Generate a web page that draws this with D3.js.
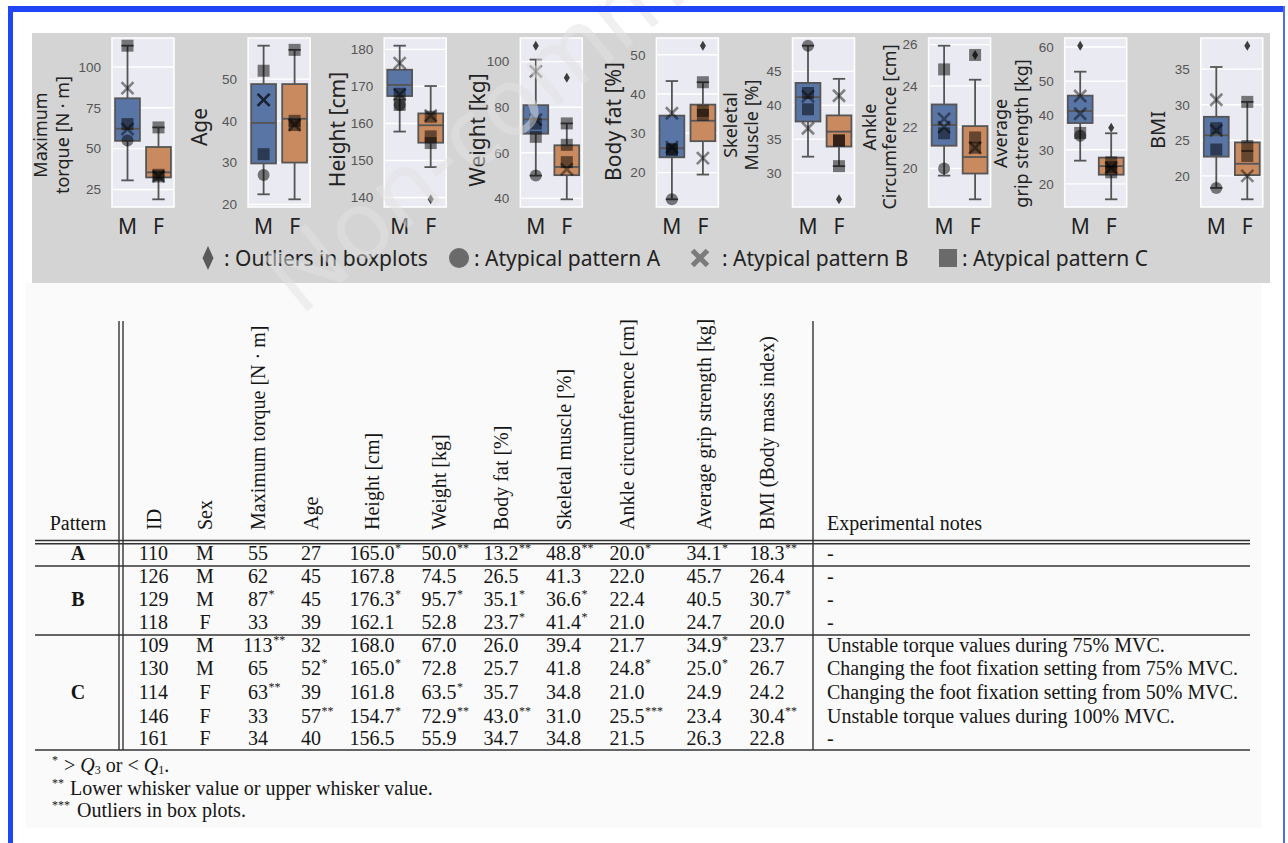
<!DOCTYPE html>
<html>
<head>
<meta charset="utf-8">
<script src="https://cdn.jsdelivr.net/npm/d3@7"></script>
<style>
  body { margin: 0; background: #fff; }
  svg { display: block; }
</style>
</head>
<body>
<svg id="fig" width="1288" height="843"></svg>
<script>
// ---------------- data ----------------
const sexes = ["M", "F"];
const variables = ["torque", "age", "height", "weight", "fat", "muscle", "ankle", "grip", "bmi"];
const axisTitles = [
  ["Maximum", "torque [N · m]"], ["Age"], ["Height [cm]"], ["Weight [kg]"], ["Body fat [%]"],
  ["Skeletal", "Muscle [%]"], ["Ankle", "Circumference [cm]"], ["Average", "grip strength [kg]"], ["BMI"]
];
const axisTicks = [
  [25, 50, 75, 100], [20, 30, 40, 50], [140, 150, 160, 170, 180], [40, 60, 80, 100], [20, 30, 40, 50],
  [30, 35, 40, 45], [20, 22, 24, 26], [20, 30, 40, 50, 60], [20, 25, 30, 35]
];
// box summaries: lower whisker, Q1, median, Q3, upper whisker
const boxMale = [
  [30.6, 54.8, 62.2, 80.8, 113],
  [22.4, 29.8, 39.5, 48.8, 58],
  [157.8, 167.4, 170.4, 174.5, 181],
  [50.0, 68.4, 74.7, 80.9, 100.9],
  [13.2, 23.9, 26.2, 34.5, 43.3],
  [32.4, 37.6, 41.2, 43.3, 48.8],
  [19.65, 21.1, 22.1, 23.1, 25.95],
  [26.8, 37.8, 41.3, 45.8, 52.8],
  [18.3, 22.7, 25.7, 28.3, 35.3]
];
const boxFemale = [
  [19, 32.4, 35.5, 51, 63],
  [21.2, 30, 40.5, 48.8, 57],
  [148.2, 154.8, 159.5, 162.7, 170.1],
  [39.6, 50.2, 53.8, 63.3, 72.9],
  [19.5, 28, 33.2, 37.3, 43.0],
  [31.0, 33.9, 36.1, 38.5, 43.9],
  [18.5, 19.75, 20.55, 22.05, 24.3],
  [15.5, 22.7, 25.2, 27.7, 34.8],
  [16.7, 20.1, 21.7, 24.7, 30.4]
];
const outliersMale = [[], [], [], [107], [], [], [], [60.4], []];
const outliersFemale = [[], [], [139.5], [92.9], [52.3], [26.1], [25.5], [36.4], [38.3]];

// participants with atypical patterns
const subjectPattern = ["A", "B", "B", "B", "C", "C", "C", "C", "C"];
const subjectId = ["110", "126", "129", "118", "109", "130", "114", "146", "161"];
const subjectSex = ["M", "M", "M", "F", "M", "M", "F", "F", "F"];
const torqueCol = ["55", "62", "87*", "33", "113**", "65", "63**", "33", "34"];
const ageCol = ["27", "45", "45", "39", "32", "52*", "39", "57**", "40"];
const heightCol = ["165.0*", "167.8", "176.3*", "162.1", "168.0", "165.0*", "161.8", "154.7*", "156.5"];
const weightCol = ["50.0**", "74.5", "95.7*", "52.8", "67.0", "72.8", "63.5*", "72.9**", "55.9"];
const fatCol = ["13.2**", "26.5", "35.1*", "23.7*", "26.0", "25.7", "35.7", "43.0**", "34.7"];
const muscleCol = ["48.8**", "41.3", "36.6*", "41.4*", "39.4", "41.8", "34.8", "31.0", "34.8"];
const ankleCol = ["20.0*", "22.0", "22.4", "21.0", "21.7", "24.8*", "21.0", "25.5***", "21.5"];
const gripCol = ["34.1*", "45.7", "40.5", "24.7", "34.9*", "25.0*", "24.9", "23.4", "26.3"];
const bmiCol = ["18.3**", "26.4", "30.7*", "20.0", "23.7", "26.7", "24.2", "30.4**", "22.8"];
const notesCol = [
  "-", "-", "-", "-",
  "Unstable torque values during 75% MVC.",
  "Changing the foot fixation setting from 75% MVC.",
  "Changing the foot fixation setting from 50% MVC.",
  "Unstable torque values during 100% MVC.",
  "-"
];
const tableHeaders = ["ID", "Sex", "Maximum torque [N · m]", "Age", "Height [cm]", "Weight [kg]", "Body fat [%]",
  "Skeletal muscle [%]", "Ankle circumference [cm]", "Average grip strength [kg]", "BMI (Body mass index)"];
const legendItems = ["Outliers in boxplots", "Atypical pattern A", "Atypical pattern B", "Atypical pattern C"];
// subject / variable pairs that have no marker in the box plots
const notPlotted = [["130", "grip"]];

// ---------------- layout ----------------
const W = 1288, H = 843;
const PANEL_X0 = 112, PANEL_STEP = 136.1, PANEL_W = 62, PANEL_TOP = 38, PANEL_BOTTOM = 207;
const labelDx = [[-72, -50], [-49], [-47], [-43], [-43], [-63, -42], [-60, -40], [-65, -44], [-43]];
const labelCy = [135, 127, 129.5, 130, 121.5, 125, 127, 133.5, 130];
const SANS = "'Noto Sans', 'DejaVu Sans', sans-serif";
const SERIF = "'Liberation Serif', 'Times New Roman', serif";
const boxFill = { M: "#5975a6", F: "#c98a5f" };
const LINE = "#555";

const svg = d3.select("#fig");
svg.append("rect").attr("width", W).attr("height", H).attr("fill", "#fff");
svg.append("rect").attr("x", 25).attr("y", 283).attr("width", 1237).attr("height", 545).attr("fill", "#fafafa");
svg.append("rect").attr("x", 32).attr("y", 33).attr("width", 1238).attr("height", 250).attr("fill", "#d4d4d4");

// marker shapes
function drawMarker(g, shape, cx, cy, s, legend) {
  if (shape === "A") {
    g.append("circle").attr("cx", cx).attr("cy", cy).attr("r", s / 2)
      .attr("fill", "#000").attr("fill-opacity", 0.5);
  } else if (shape === "B") {
    const h = s / 2;
    g.append("path")
      .attr("d", `M${cx - h},${cy - h}L${cx + h},${cy + h}M${cx - h},${cy + h}L${cx + h},${cy - h}`)
      .attr("stroke", "#000").attr("stroke-opacity", legend ? 0.42 : 0.45)
      .attr("stroke-width", legend ? 5 : 2.6).attr("fill", "none");
  } else {
    g.append("rect").attr("x", cx - s / 2).attr("y", cy - s / 2).attr("width", s).attr("height", s)
      .attr("fill", "#000").attr("fill-opacity", 0.5);
  }
}
function diamond(g, cx, cy, w, h, fill) {
  g.append("path")
    .attr("d", `M${cx},${cy - h / 2}L${cx + w / 2},${cy}L${cx},${cy + h / 2}L${cx - w / 2},${cy}Z`)
    .attr("fill", fill);
}

// ---------------- box plot panels ----------------
const columns = { torque: torqueCol, age: ageCol, height: heightCol, weight: weightCol, fat: fatCol,
  muscle: muscleCol, ankle: ankleCol, grip: gripCol, bmi: bmiCol };

variables.forEach((v, i) => {
  const x0 = PANEL_X0 + i * PANEL_STEP;
  const all = boxMale[i].concat(boxFemale[i], outliersMale[i], outliersFemale[i]);
  const [lo, hi] = d3.extent(all);
  const pad = (hi - lo) * 0.05;
  const y = d3.scaleLinear().domain([lo - pad, hi + pad]).range([PANEL_BOTTOM, PANEL_TOP]);
  const x = d3.scaleBand().domain(sexes).range([x0, x0 + PANEL_W]).paddingInner(0.2).paddingOuter(0.1);
  const g = svg.append("g");

  g.append("rect").attr("x", x0).attr("y", PANEL_TOP).attr("width", PANEL_W)
    .attr("height", PANEL_BOTTOM - PANEL_TOP).attr("fill", "#eaeaf2")
    .attr("stroke", "#fff").attr("stroke-width", 1.5);
  g.selectAll("line.grid").data(axisTicks[i]).join("line").attr("class", "grid")
    .attr("x1", x0).attr("x2", x0 + PANEL_W).attr("y1", d => y(d)).attr("y2", d => y(d))
    .attr("stroke", "#fff").attr("stroke-width", 1.4);

  const ya = g.append("g").attr("transform", `translate(${x0},0)`)
    .call(d3.axisLeft(y).tickValues(axisTicks[i]).tickSize(0).tickPadding(11));
  ya.select(".domain").remove();
  ya.attr("font-family", "'Liberation Sans', Arial, sans-serif").attr("font-size", 13.5);
  ya.selectAll("text").attr("fill", "#555");

  const xa = g.append("g").attr("transform", `translate(0,${PANEL_BOTTOM})`)
    .call(d3.axisBottom(x).tickSize(0).tickPadding(12));
  xa.select(".domain").remove();
  xa.attr("font-family", SANS).attr("font-size", 21);
  xa.selectAll("text").attr("fill", "#222");

  const lines = axisTitles[i];
  lines.forEach((t, k) => {
    const fs = lines.length > 1 ? 18 : (t === "BMI" ? 20 : 21);
    g.append("text")
      .attr("transform", `translate(${x0 + labelDx[i][k]},${labelCy[i]}) rotate(-90)`)
      .attr("text-anchor", "middle").attr("dominant-baseline", "central")
      .attr("font-family", SANS).attr("font-size", fs).attr("fill", "#222").text(t);
  });

  sexes.forEach((s, si) => {
    const st = si === 0 ? boxMale[i] : boxFemale[i];
    const outs = si === 0 ? outliersMale[i] : outliersFemale[i];
    const bw = x.bandwidth(), cx = x(s) + bw / 2;
    const bg = g.append("g").attr("stroke", LINE).attr("stroke-width", 1.8);
    bg.append("line").attr("x1", cx).attr("x2", cx).attr("y1", y(st[0])).attr("y2", y(st[1]));
    bg.append("line").attr("x1", cx).attr("x2", cx).attr("y1", y(st[3])).attr("y2", y(st[4]));
    [st[0], st[4]].forEach(c => bg.append("line").attr("x1", cx - bw / 4).attr("x2", cx + bw / 4)
      .attr("y1", y(c)).attr("y2", y(c)));
    bg.append("rect").attr("x", x(s)).attr("y", y(st[3])).attr("width", bw)
      .attr("height", y(st[1]) - y(st[3])).attr("fill", boxFill[s]);
    bg.append("line").attr("x1", x(s)).attr("x2", x(s) + bw).attr("y1", y(st[2])).attr("y2", y(st[2]));
    outs.forEach(o => diamond(g, cx, y(o), 6, 10, "#3d3d3d"));
  });

  // atypical participants
  subjectId.forEach((id, r) => {
    if (notPlotted.some(p => p[0] === id && p[1] === v)) return;
    const val = parseFloat(columns[v][r]);
    const cx = x(subjectSex[r]) + x.bandwidth() / 2;
    drawMarker(g, subjectPattern[r], cx, y(val), 12, false);
  });
});

// ---------------- legend ----------------
const lg = svg.append("g").attr("font-family", SANS).attr("font-size", 21).attr("fill", "#222");
const legendSym = [208, 459, 700, 948];
const legendTxt = [224, 474, 722, 962];
const LY = 258;
diamond(lg, legendSym[0], LY, 11, 24, "#5a5a5a");
drawMarker(lg, "A", legendSym[1], LY, 20, true);
drawMarker(lg, "B", legendSym[2], LY, 15, true);
drawMarker(lg, "C", legendSym[3], LY, 18, true);
legendItems.forEach((t, k) => {
  lg.append("text").attr("x", legendTxt[k]).attr("y", LY).attr("dominant-baseline", "central").text(": " + t);
});

// ---------------- table ----------------
const tg = svg.append("g").attr("font-family", SERIF).attr("font-size", 20).attr("fill", "#151515");
const colCenters = [153.5, 205, 258, 311, 372, 439, 501, 563.5, 627, 704, 767];
const NOTES_X = 827;
const rowBaselines = [559.5, 582.5, 605.5, 628.5, 652, 675, 699, 722.5, 745];
const tableColumns = [subjectId, subjectSex, torqueCol, ageCol, heightCol, weightCol, fatCol, muscleCol,
  ankleCol, gripCol, bmiCol];

const rule = (x1, x2, y1, y2, w) => tg.append("line").attr("x1", x1).attr("x2", x2).attr("y1", y1).attr("y2", y2)
  .attr("stroke", "#333").attr("stroke-width", w || 1.4);
rule(119, 119, 321, 750); rule(123, 123, 321, 750); rule(813, 813, 321, 750);
rule(35, 1250, 540.5, 540.5); rule(35, 1250, 543.8, 543.8);
rule(35, 1250, 566, 566); rule(35, 1250, 635, 635); rule(35, 1250, 750, 750, 1.7);

tg.append("text").attr("x", 78).attr("y", 530).attr("text-anchor", "middle").text("Pattern");
tg.append("text").attr("x", NOTES_X).attr("y", 530).text("Experimental notes");
tableHeaders.forEach((h, c) => {
  tg.append("text").attr("transform", `translate(${colCenters[c]},530) rotate(-90)`)
    .attr("dominant-baseline", "central").text(h);
});

function cell(str, cx, by) {
  const m = str.match(/^([^*]*)(\**)$/);
  const t = tg.append("text").attr("x", cx).attr("y", by).attr("text-anchor", "middle").text(m[1]);
  if (m[2]) {
    const w = t.node().getComputedTextLength();
    tg.append("text").attr("x", cx + w / 2 + 0.5).attr("y", by - 8).attr("font-size", 12).text(m[2]);
  }
}
tableColumns.forEach((col, c) => col.forEach((s, r) => cell(s, colCenters[c], rowBaselines[r])));
notesCol.forEach((n, r) => tg.append("text").attr("x", NOTES_X).attr("y", rowBaselines[r]).text(n));

// pattern group labels
d3.groups(subjectPattern.map((p, r) => [p, rowBaselines[r]]), d => d[0]).forEach(([p, rows]) => {
  tg.append("text").attr("x", 78).attr("y", d3.mean(rows, d => d[1])).attr("text-anchor", "middle")
    .attr("font-weight", "bold").text(p);
});

// footnotes: star markers, then the explanation text
const footStars = ["*", "**", "***"];
const footY = [772, 795, 817];
const footX = [64, 70, 77];
footStars.forEach((s, k) => {
  tg.append("text").attr("x", 52).attr("y", footY[k] - 8).attr("font-size", 12).text(s);
});
const fn1 = tg.append("text").attr("x", footX[0]).attr("y", footY[0]);
fn1.append("tspan").text("> ");
fn1.append("tspan").attr("font-style", "italic").text("Q");
fn1.append("tspan").attr("font-size", 12).attr("dy", 2).text("3");
fn1.append("tspan").attr("dy", -2).text(" or < ");
fn1.append("tspan").attr("font-style", "italic").text("Q");
fn1.append("tspan").attr("font-size", 12).attr("dy", 2).text("1");
fn1.append("tspan").attr("dy", -2).text(".");
tg.append("text").attr("x", footX[1]).attr("y", footY[1]).text("Lower whisker value or upper whisker value.");
tg.append("text").attr("x", footX[2]).attr("y", footY[2]).text("Outliers in box plots.");

// ---------------- watermark and frame ----------------
svg.append("text").attr("transform", "translate(300,317) rotate(-39.4)")
  .attr("font-family", SANS).attr("font-size", 96).attr("fill", "#e2e2e2").attr("fill-opacity", 0.5)
  .text("Non-commercial");

svg.append("rect").attr("x", 8).attr("y", 6).attr("width", 1277).attr("height", 6).attr("fill", "#1f45f5");
svg.append("rect").attr("x", 8).attr("y", 6).attr("width", 5).attr("height", H - 6).attr("fill", "#1f45f5");
svg.append("rect").attr("x", 1283).attr("y", 6).attr("width", 2).attr("height", H - 6).attr("fill", "#4a6cf7");
</script>
</body>
</html>
